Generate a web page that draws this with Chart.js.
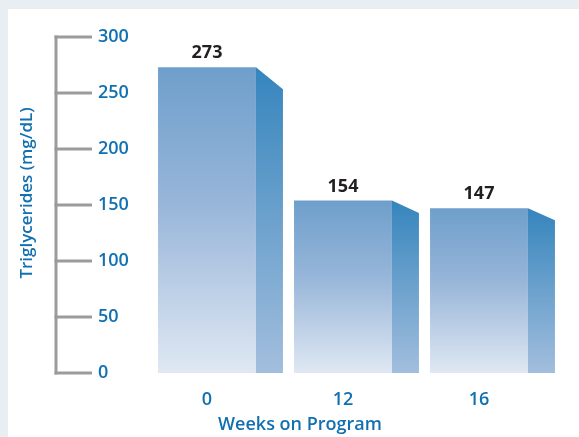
<!DOCTYPE html>
<html>
<head>
<meta charset="utf-8">
<script src="https://cdn.jsdelivr.net/npm/chart.js@4/dist/chart.umd.min.js"></script>
<style>
  html, body { margin: 0; padding: 0; background: #e9eef2; }
  #chart { display: block; }
</style>
</head>
<body>
<canvas id="chart" width="579" height="437"></canvas>
<script>
// ==== Data ====
const weeks = ['0', '12', '16'];
const triglycerides = [273, 154, 147];
const yTicks = [0, 50, 100, 150, 200, 250, 300];

const BLUE_TEXT = '#1170b0';
const AXIS_GRAY = '#9b9b9b';
const FONT = '"Open Sans", "Noto Sans", sans-serif';
const SIDE_DEPTH = 27;     // px width of the side face
const SIDE_SLOPE = 0.072;  // how far the side top drops, relative to bar height

// ==== Helpers ====
function frontGradient(ctx, top, base) {
    const g = ctx.createLinearGradient(0, top, 0, base);
    g.addColorStop(0, '#6e9fcb');
    g.addColorStop(0.45, '#98b6d9');
    g.addColorStop(1, '#dfe8f3');
    return g;
}

function sideGradient(ctx, top, base) {
    const g = ctx.createLinearGradient(0, top, 0, base);
    g.addColorStop(0, '#3585bd');
    g.addColorStop(1, '#a3bedd');
    return g;
}

// ==== Plugins ====
const panelPlugin = {
    id: 'panel',
    beforeDraw(chart) {
        const ctx = chart.ctx;
        ctx.save();
        ctx.fillStyle = '#e9eef2';
        ctx.fillRect(0, 0, chart.width, chart.height);
        ctx.fillStyle = '#ffffff';
        ctx.fillRect(8, 9, chart.width - 8, chart.height - 9);
        ctx.restore();
    }
};

const sideFacePlugin = {
    id: 'sideFaces',
    afterDatasetsDraw(chart) {
        const ctx = chart.ctx;
        const meta = chart.getDatasetMeta(0);
        ctx.save();
        meta.data.forEach((bar, i) => {
            const right = bar.x + bar.width / 2;
            const drop = (bar.base - bar.y) * SIDE_SLOPE;
            ctx.beginPath();
            ctx.moveTo(right, bar.y);
            ctx.lineTo(right + SIDE_DEPTH, bar.y + drop);
            ctx.lineTo(right + SIDE_DEPTH, bar.base);
            ctx.lineTo(right, bar.base);
            ctx.closePath();
            ctx.fillStyle = sideGradient(ctx, bar.y, bar.base);
            ctx.fill();

            // value label
            ctx.fillStyle = '#231f20';
            ctx.font = `700 18px ${FONT}`;
            ctx.textAlign = 'center';
            ctx.textBaseline = 'middle';
            ctx.fillText(String(triglycerides[i]), bar.x, bar.y - 14);
        });
        ctx.restore();
    }
};

const yAxisPlugin = {
    id: 'bracketAxis',
    afterDraw(chart) {
        const ctx = chart.ctx;
        const y = chart.scales.y;
        const axisX = 56;
        const tickEnd = 92;
        ctx.save();
        ctx.strokeStyle = AXIS_GRAY;
        ctx.lineWidth = 3;
        ctx.lineCap = 'butt';
        ctx.beginPath();
        ctx.moveTo(axisX, y.getPixelForValue(yTicks[yTicks.length - 1]) - 1.5);
        ctx.lineTo(axisX, y.getPixelForValue(0) + 1.5);
        ctx.stroke();
        ctx.fillStyle = BLUE_TEXT;
        ctx.font = `600 18px ${FONT}`;
        ctx.textAlign = 'left';
        ctx.textBaseline = 'middle';
        yTicks.forEach(v => {
            const py = y.getPixelForValue(v);
            ctx.beginPath();
            ctx.moveTo(axisX - 1.5, py);
            ctx.lineTo(tickEnd, py);
            ctx.stroke();
            ctx.fillText(String(v), 98, py);
        });

        // axis titles
        ctx.save();
        ctx.translate(27, 193);
        ctx.rotate(-Math.PI / 2);
        ctx.textAlign = 'center';
        ctx.font = `600 17px ${FONT}`;
        ctx.fillText('Triglycerides (mg/dL)', 0, 0);
        ctx.restore();

        ctx.textAlign = 'center';
        ctx.font = `600 18px ${FONT}`;
        ctx.fillText('Weeks on Program', 300, 425);
        ctx.restore();
    }
};

// ==== Chart ====
new Chart(document.getElementById('chart'), {
    type: 'bar',
    data: {
        labels: weeks,
        datasets: [{
            data: triglycerides,
            backgroundColor: (c) => {
                const chart = c.chart;
                if (!chart.chartArea) return '#8fb0d5';
                const top = chart.scales.y.getPixelForValue(c.raw);
                const base = chart.scales.y.getPixelForValue(0);
                return frontGradient(chart.ctx, top, base);
            },
            borderWidth: 0,
            barPercentage: 0.72,
            categoryPercentage: 1
        }]
    },
    options: {
        responsive: false,
        animation: false,
        layout: { padding: { left: 139, right: 32, top: 37, bottom: 0 } },
        plugins: { legend: { display: false }, tooltip: { enabled: false } },
        scales: {
            x: {
                grid: { display: false, drawTicks: false },
                border: { display: false },
                ticks: { color: BLUE_TEXT, font: { family: FONT, size: 18, weight: '600' }, padding: 16 },
                afterFit: s => { s.height = 64; }
            },
            y: {
                display: false,
                min: 0,
                max: 300
            }
        }
    },
    plugins: [panelPlugin, sideFacePlugin, yAxisPlugin]
});
</script>
</body>
</html>
